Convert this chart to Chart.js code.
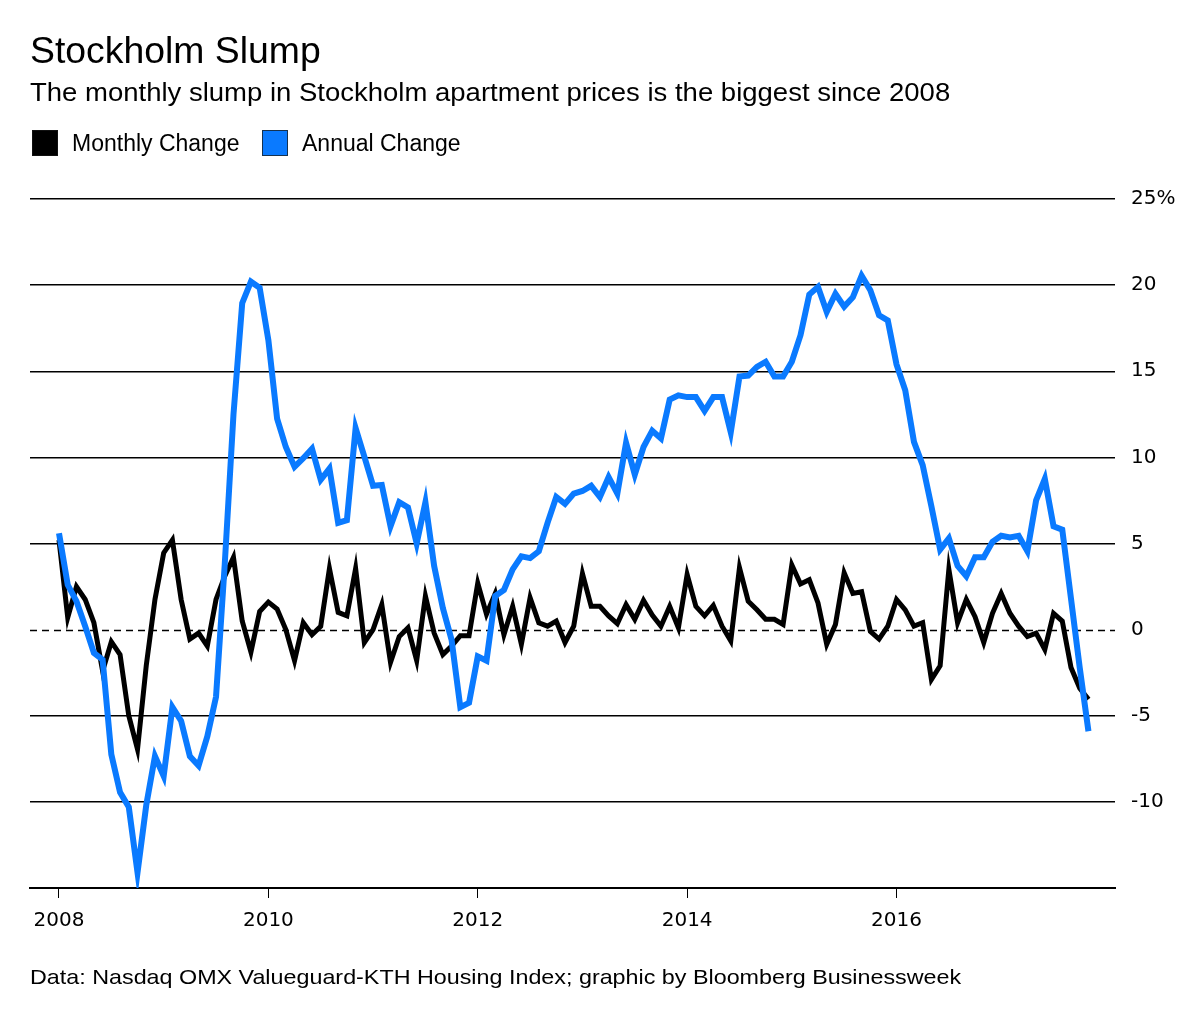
<!DOCTYPE html>
<html>
<head>
<meta charset="utf-8">
<script src="https://cdn.jsdelivr.net/npm/chart.js@4.4.0/dist/chart.umd.min.js"></script>
<style>
  html, body { margin:0; padding:0; background:#fff; }
  body { width:1200px; height:1016px; position:relative; overflow:hidden; font-family:"Liberation Sans", Arial, sans-serif; color:#000; }
  #c { position:absolute; left:0; top:0; }
  .t { position:absolute; white-space:nowrap; line-height:1; transform-origin:0 0; }
  #title { left:30px; top:32px; font-size:37px; transform:scaleX(1.01); }
  #subtitle { left:30px; top:80px; font-size:25px; transform:scaleX(1.10); }
  .sw { position:absolute; top:130px; width:24px; height:24px; border:1px solid #111; }
  .lg { top:132px; font-size:23px; }
  #source { left:30px; top:966px; font-size:21px; transform:scaleX(1.11); }
</style>
</head>
<body>
<canvas id="c" width="1200" height="1016"></canvas>
<div class="t" id="title">Stockholm Slump</div>
<div class="t" id="subtitle">The monthly slump in Stockholm apartment prices is the biggest since 2008</div>
<div class="sw" style="left:32px;background:#000;"></div>
<div class="t lg" style="left:72px;">Monthly Change</div>
<div class="sw" style="left:262px;background:#0a7aff;border-color:#16324f;"></div>
<div class="t lg" style="left:302px;">Annual Change</div>
<div class="t" id="source">Data: Nasdaq OMX Valueguard-KTH Housing Index; graphic by Bloomberg Businessweek</div>
<script>
// Monthly observations, January 2008 .. November 2017
const startYear = 2008;
const seriesNames = ['Monthly Change', 'Annual Change'];
const monthlyChange = [
  5.2, 0.7, 2.5, 1.75, 0.4, -2.4, -0.7, -1.45, -5.0, -6.95, -2.1, 1.75,
  4.45, 5.2, 1.75, -0.55, -0.2, -0.95, 1.75, 3.1, 4.2, 0.5, -1.3, 1.05,
  1.6, 1.2, 0.0, -1.8, 0.4, -0.3, 0.2, 3.55, 1.0, 0.8, 3.55, -0.75,
  0.0, 1.45, -1.9, -0.4, 0.1, -1.8, 1.95, -0.2, -1.45, -0.95, -0.35, -0.35,
  2.7, 0.9, 2.1, -0.3, 1.35, -0.85, 1.85, 0.4, 0.2, 0.5, -0.75, 0.2,
  3.25, 1.35, 1.35, 0.8, 0.35, 1.45, 0.6, 1.7, 0.85, 0.2, 1.35, 0.1,
  3.2, 1.35, 0.8, 1.4, 0.2, -0.65, 3.6, 1.65, 1.15, 0.6, 0.6, 0.3,
  3.75, 2.65, 2.9, 1.55, -0.85, 0.3, 3.3, 2.1, 2.2, -0.1, -0.55, 0.2,
  1.75, 1.15, 0.2, 0.4, -2.9, -2.1, 3.5, 0.4, 1.75, 0.75, -0.75, 0.95,
  2.1, 0.95, 0.2, -0.4, -0.2, -1.15, 0.95, 0.5, -2.2, -3.4, -4.05
];
const annualChange = [
  5.6, 2.6, 1.65, 0.2, -1.35, -1.75, -7.25, -9.45, -10.3, -14.1, -10.2, -7.35,
  -8.5, -4.5, -5.3, -7.35, -7.9, -6.2, -3.9, 3.8, 12.5, 18.95, 20.2, 19.85,
  16.8, 12.25, 10.6, 9.45, 9.95, 10.5, 8.7, 9.35, 6.2, 6.35, 11.7, 10.05,
  8.35, 8.4, 6.0, 7.4, 7.1, 5.0, 7.4, 3.7, 1.25, -0.6, -4.5, -4.25,
  -1.55, -1.8, 1.95, 2.3, 3.5, 4.25, 4.15, 4.55, 6.2, 7.7, 7.3, 7.9,
  8.05, 8.35, 7.7, 8.85, 7.9, 10.85, 9.0, 10.6, 11.55, 11.1, 13.35, 13.6,
  13.5, 13.5, 12.7, 13.5, 13.5, 11.45, 14.7, 14.75, 15.25, 15.55, 14.7, 14.7,
  15.55, 17.1, 19.45, 19.9, 18.45, 19.5, 18.75, 19.3, 20.55, 19.7, 18.25, 17.95,
  15.4, 13.9, 10.9, 9.55, 7.15, 4.65, 5.3, 3.7, 3.1, 4.2, 4.2, 5.1,
  5.45, 5.35, 5.45, 4.55, 7.5, 8.75, 6.0, 5.8, 1.8, -2.2, -5.9
];
const xTickYears = [2008, 2010, 2012, 2014, 2016];
const yTickValues = [-15, -10, -5, 0, 5, 10, 15, 20, 25];
const yTickLabels = ['', '-10', '-5', '0', '5', '10', '15', '20', '25%'];

const toPoints = arr => arr.map((v, i) => ({ x: startYear + i / 12, y: v }));

const zeroLine = {
  id: 'zeroLine',
  beforeDatasetsDraw(chart) {
    const { ctx, chartArea, scales } = chart;
    const y = Math.round(scales.y.getPixelForValue(0)) + 0.5;
    ctx.save();
    ctx.strokeStyle = '#000';
    ctx.lineWidth = 1.3;
    ctx.setLineDash([7, 5]);
    ctx.beginPath();
    ctx.moveTo(chartArea.left, y);
    ctx.lineTo(chartArea.right, y);
    ctx.stroke();
    ctx.restore();
  }
};

const TICK_FONT = '"DejaVu Sans", "Liberation Sans", sans-serif';

new Chart(document.getElementById('c'), {
  type: 'line',
  data: {
    datasets: [
      { label: seriesNames[0], data: toPoints(monthlyChange), borderColor: '#000', borderWidth: 5,
        pointRadius: 0, tension: 0, borderJoinStyle: 'miter', order: 1 },
      { label: seriesNames[1], data: toPoints(annualChange), borderColor: '#0a7aff', borderWidth: 6,
        pointRadius: 0, tension: 0, borderJoinStyle: 'miter', order: 0 }
    ]
  },
  options: {
    responsive: false,
    animation: false,
    devicePixelRatio: 1,
    layout: { padding: { top: 199, left: 30, right: 0, bottom: 78 } },
    plugins: { legend: { display: false }, tooltip: { enabled: false } },
    scales: {
      x: {
        type: 'linear',
        min: 2007.723,
        max: 2018.087,
        afterBuildTicks: s => { s.ticks = xTickYears.map(v => ({ value: v })); },
        afterFit: s => { s.height = 50; },
        ticks: { color: '#000', font: { family: TICK_FONT, size: 20 }, padding: 11, maxRotation: 0,
                 callback: v => String(v) },
        grid: { drawOnChartArea: false, drawTicks: true, tickLength: 10, tickColor: '#000', tickWidth: 1 },
        border: { display: true, color: '#000', width: 2 }
      },
      y: {
        position: 'right',
        min: -15,
        max: 25,
        afterBuildTicks: s => { s.ticks = yTickValues.map(v => ({ value: v })); },
        afterFit: s => { s.width = 85; },
        ticks: { color: '#000', font: { family: TICK_FONT, size: 20 }, padding: 16,
                 callback: v => yTickLabels[yTickValues.indexOf(v)] },
        grid: { drawTicks: false, lineWidth: 1.5,
                color: ctx => (ctx.tick && ctx.tick.value === 0) ? 'rgba(0,0,0,0)' : '#000' },
        border: { display: false }
      }
    }
  },
  plugins: [zeroLine]
});
</script>
</body>
</html>
